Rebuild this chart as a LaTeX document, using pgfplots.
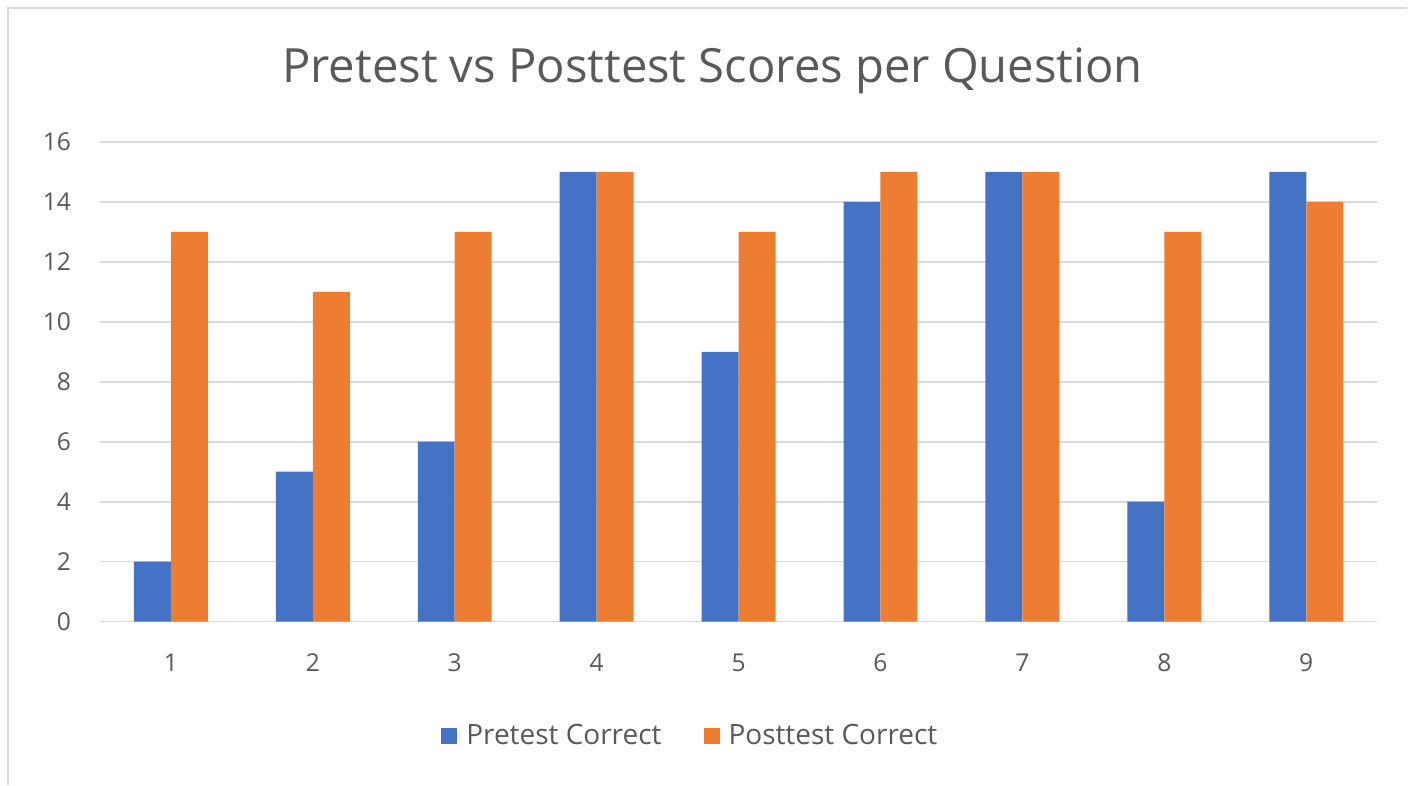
\documentclass[border=0pt]{standalone}
\usepackage{fontspec}
\setmainfont{Open Sans}
\usepackage{pgfplots}
\pgfplotsset{compat=1.18}
\definecolor{cblue}{HTML}{4472C4}
\definecolor{corange}{HTML}{ED7D31}
\definecolor{cgrid}{HTML}{D9D9D9}
\definecolor{ctext}{HTML}{595959}
\begin{document}
\begin{tikzpicture}
\path (0,0) rectangle (704pt,392.5pt);
\draw[cgrid, line width=0.8pt] (4pt,0) -- (4pt,388.5pt) -- (704pt,388.5pt);
\node[text=ctext, font=\fontsize{23.6}{26}\selectfont] at (356.5pt,357pt) {Pretest vs Posttest Scores per Question};
\begin{axis}[
  at={(50pt,81.5pt)}, anchor=south west,
  scale only axis, width=639pt, height=240pt,
  ybar=0pt, bar width=18.5pt,
  xmin=0.5, xmax=9.5, ymin=0, ymax=16,
  xtick={1,...,9}, ytick={0,2,...,16},
  ymajorgrids, grid style={cgrid, line width=0.8pt},
  axis x line*=bottom, axis y line*=left,
  x axis line style={cgrid, line width=0.8pt},
  y axis line style={draw=none},
  major tick length=0pt,
  tick label style={text=ctext, font=\fontsize{12.3}{14}\selectfont},
  /pgf/number format/assume math mode=true,
  yticklabel style={xshift=-11pt},
  xticklabel style={yshift=-12.5pt},
  legend style={at={(0.463,-0.2385)}, anchor=center, draw=none, legend columns=2,
    font=\fontsize{14}{16}\selectfont, text=ctext,
    /tikz/every odd column/.append style={column sep=2.5pt},
    /tikz/every even column/.append style={column sep=19pt}},
  legend image code/.code={\fill[#1] (0pt,-4pt) rectangle (8pt,4pt);},
]
\addplot[fill=cblue, draw=none] coordinates {(1,2) (2,5) (3,6) (4,15) (5,9) (6,14) (7,15) (8,4) (9,15)};
\addplot[fill=corange, draw=none] coordinates {(1,13) (2,11) (3,13) (4,15) (5,13) (6,15) (7,15) (8,13) (9,14)};
\legend{Pretest Correct, Posttest Correct}
\end{axis}
\end{tikzpicture}
\end{document}
